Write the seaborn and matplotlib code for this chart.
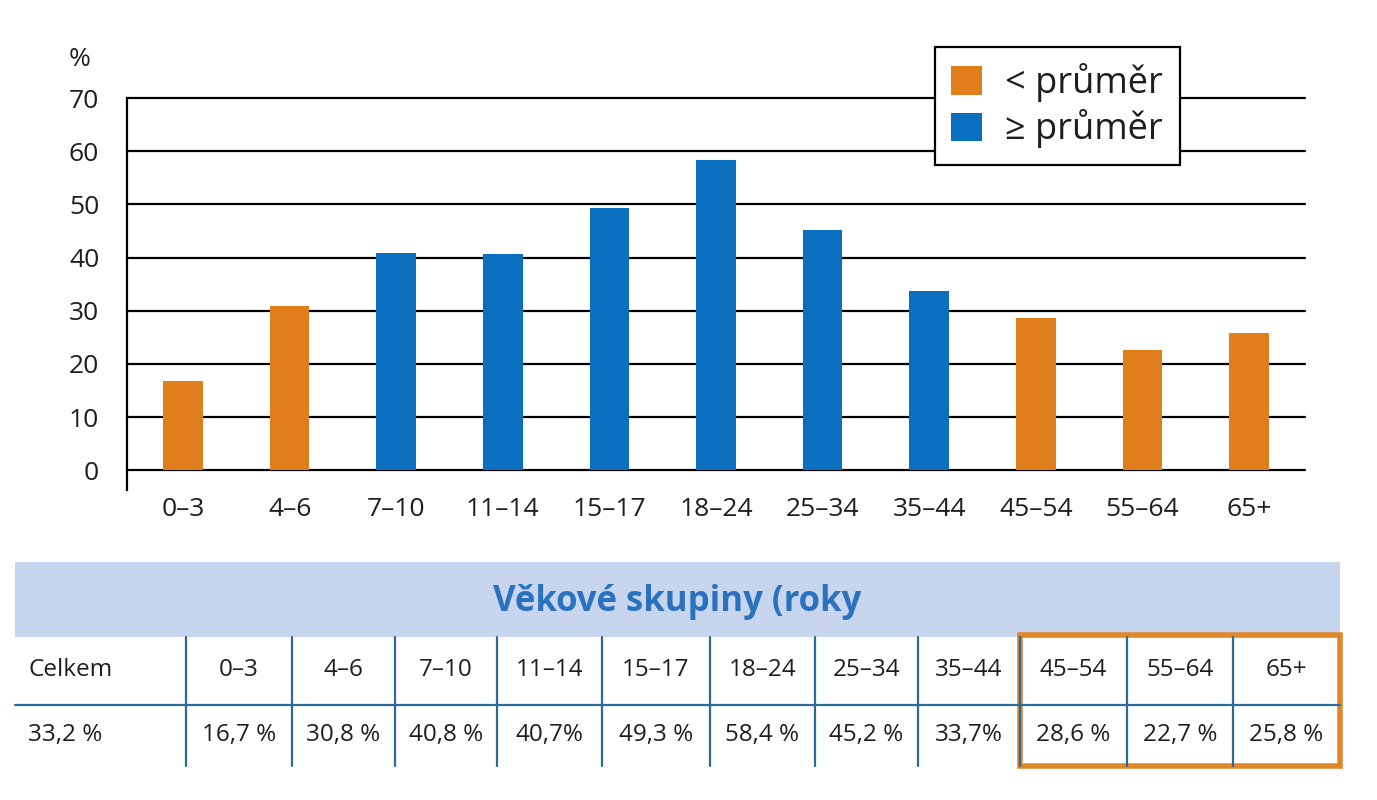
import matplotlib
matplotlib.use("Agg")
import matplotlib.pyplot as plt
from matplotlib.patches import Patch, Rectangle
import pandas as pd
import seaborn as sns

# data
age_groups = ["0–3", "4–6", "7–10", "11–14", "15–17", "18–24",
              "25–34", "35–44", "45–54", "55–64", "65+"]
values = [16.7, 30.8, 40.8, 40.7, 49.3, 58.4, 45.2, 33.7, 28.6, 22.7, 25.8]
value_labels = ["16,7 %", "30,8 %", "40,8 %", "40,7%", "49,3 %", "58,4 %",
                "45,2 %", "33,7%", "28,6 %", "22,7 %", "25,8 %"]
total_label = "Celkem"
total_value = "33,2 %"
average = 33.2
y_ticks = [0, 10, 20, 30, 40, 50, 60, 70]
legend_labels = ["< průměr", "≥ průměr"]
table_title = "Věkové skupiny (roky"

ORANGE = "#E17E1C"
BLUE = "#0B6FBF"
LINE_BLUE = "#2C6A98"
TXT = "#1E1E1E"

sns.set_style("white")
plt.rcParams["font.family"] = ["Open Sans", "DejaVu Sans"]

df = pd.DataFrame({"group": age_groups, "value": values})
df["cls"] = [legend_labels[0] if v < average else legend_labels[1] for v in values]

W, H = 1377, 800
fig = plt.figure(figsize=(W / 100, H / 100), dpi=100)

# chart axes in pixel layout
left, right, top, bottom = 127, 1305, 98, 490
ax = fig.add_axes([left / W, 1 - bottom / H, (right - left) / W, (bottom - top) / H])
sns.barplot(data=df, x="group", y="value", hue="cls", dodge=False,
            palette={legend_labels[0]: ORANGE, legend_labels[1]: BLUE},
            width=0.37, saturation=1, legend=False, linewidth=0, ax=ax)
ax.set_xlim(-0.525, len(age_groups) - 0.475)
ax.set_ylim(-3.7, 70)
ax.set_yticks(y_ticks)
ax.set_axisbelow(True)
ax.yaxis.grid(True, color="black", lw=1.6)
for gl in ax.get_ygridlines():
    gl.set_clip_on(False)
for s in ["top", "right", "bottom"]:
    ax.spines[s].set_visible(False)
ax.spines["left"].set_color("black")
ax.spines["left"].set_linewidth(1.6)
ax.tick_params(axis="y", length=12, width=1.6, color="black", labelsize=19, pad=8,
               labelcolor=TXT)
ax.tick_params(axis="x", length=0, labelsize=19, pad=5, labelcolor=TXT)
ax.set_xlabel("")
ax.set_ylabel("")
fig.text(80 / W, 1 - 60 / H, "%", fontsize=19, color=TXT, ha="center", va="center")

handles = [Patch(facecolor=ORANGE, edgecolor="none"), Patch(facecolor=BLUE, edgecolor="none")]
leg = fig.legend(handles, legend_labels, loc="upper left",
                 bbox_to_anchor=(935 / W, 1 - 47 / H), fontsize=26,
                 frameon=True, fancybox=False, framealpha=1, edgecolor="black",
                 handlelength=0.85, handleheight=0.85, handletextpad=0.65,
                 borderpad=0.45, labelspacing=0.2, borderaxespad=0)
leg.get_frame().set_linewidth(1.6)
for t in leg.get_texts():
    t.set_color(TXT)

# table below the chart, drawn in pixel coordinates
tab = fig.add_axes([0, 0, 1, 1])
tab.set_xlim(0, W)
tab.set_ylim(H, 0)
tab.axis("off")

edges = [15, 186, 292, 395, 497, 602, 710, 815, 918, 1020, 1127, 1233, 1340]
tab.add_patch(Rectangle((edges[0], 562), edges[-1] - edges[0], 75,
                        facecolor="#C8D5EE", edgecolor="none"))
tab.text(677, 602, table_title, fontsize=25, fontweight="bold", color="#2A72BE",
         ha="center", va="center")
tab.plot([edges[0], edges[-1]], [705, 705], color=LINE_BLUE, lw=1.6)
for x in edges[1:-1]:
    tab.plot([x, x], [637, 766], color=LINE_BLUE, lw=1.6)

tab.text(28, 670, total_label, fontsize=17.5, color=TXT, ha="left", va="center")
tab.text(28, 735, total_value, fontsize=17.5, color=TXT, ha="left", va="center")
for i, (g, lab) in enumerate(zip(age_groups, value_labels)):
    cx = (edges[i + 1] + edges[i + 2]) / 2
    tab.text(cx, 670, g, fontsize=17.5, color=TXT, ha="center", va="center")
    tab.text(cx, 735, lab, fontsize=17.5, color=TXT, ha="center", va="center")

tab.add_patch(Rectangle((edges[9], 635), edges[-1] - edges[9], 131,
                        facecolor="none", edgecolor="#E0872A", lw=4))

fig.savefig("out.png", dpi=100, facecolor="white")
